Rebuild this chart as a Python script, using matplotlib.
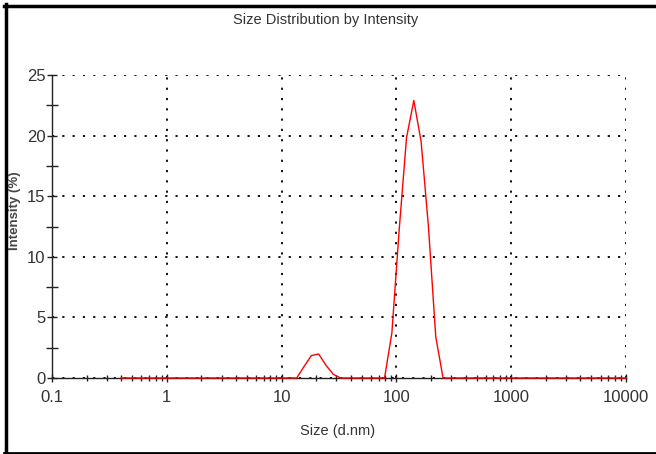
import matplotlib.pyplot as plt
from matplotlib.lines import Line2D
from matplotlib.ticker import FixedLocator, LogLocator, NullFormatter
import matplotlib.font_manager as fm

# size bins (d.nm) and intensity (%) of the DLS distribution
size_nm = [0.4, 13.54, 15.69, 18.17, 21.04, 24.36, 28.21, 32.67,
           78.82, 91.28, 105.7, 122.4, 141.8, 164.2, 190.1, 220.2, 255.0, 10000]
intensity = [0, 0, 0.95, 1.85, 1.98, 1.05, 0.3, 0,
             0, 3.7, 12.2, 19.8, 22.9, 19.5, 12.5, 3.4, 0, 0]

x_ticks = [0.1, 1, 10, 100, 1000, 10000]
x_labels = ["0.1", "1", "10", "100", "1000", "10000"]
y_ticks = [0, 5, 10, 15, 20, 25]

names = {f.name for f in fm.fontManager.ttflist}
family = ["Liberation Sans Narrow", "Liberation Sans", "DejaVu Sans"]
family = [f for f in family if f in names] or ["DejaVu Sans"]
plt.rcParams["font.family"] = family

W, H = 656, 454
fig = plt.figure(figsize=(W / 100, H / 100), dpi=100)
ax = fig.add_axes([52 / W, 1 - 378 / H, (626 - 52) / W, (378 - 75) / H])

ax.plot(size_nm, intensity, color="#ff0000", lw=1.0, zorder=5, clip_on=False)

ax.set_xscale("log")
ax.set_xlim(0.1, 10000)
ax.set_ylim(0, 25)

ax.xaxis.set_major_locator(FixedLocator(x_ticks))
ax.set_xticklabels(x_labels)
ax.xaxis.set_minor_locator(LogLocator(base=10, subs=range(2, 10)))
ax.xaxis.set_minor_formatter(NullFormatter())
ax.yaxis.set_major_locator(FixedLocator(y_ticks))
ax.yaxis.set_minor_locator(FixedLocator([2.5, 7.5, 12.5, 17.5, 22.5]))

for s in ("top", "right"):
    ax.spines[s].set_visible(False)
for s in ("left", "bottom"):
    ax.spines[s].set_linewidth(1.0)
    ax.spines[s].set_color("#222222")

ax.tick_params(axis="both", which="both", direction="inout", color="#222222")
ax.tick_params(axis="y", which="major", length=7, width=1.0, labelsize=12, pad=1)
ax.tick_params(axis="y", which="minor", length=8, width=1.0)
ax.tick_params(axis="x", which="major", length=6, width=1.0, labelsize=12, pad=6)
ax.tick_params(axis="x", which="minor", length=5, width=1.0)
for lab in ax.get_xticklabels() + ax.get_yticklabels():
    lab.set_color("#333333")

ax.grid(True, which="major", color="black", linestyle=(0, (1.2, 4.5)), linewidth=1.3)

fig.text(326 / W, 1 - 20 / H, "Size Distribution by Intensity", ha="center", va="center",
         fontsize=10.5, color="#333333")
fig.text(338 / W, 1 - 431 / H, "Size (d.nm)", ha="center", va="center",
         fontsize=10.5, color="#333333")
fig.text(15 / W, 1 - 211 / H, "Intensity (%)", ha="center", va="center", rotation=90,
         fontsize=9.5, fontweight="bold", color="#444444")

# outer frame: left, top and bottom edges
fig.add_artist(Line2D([5.5 / W, 5.5 / W], [0, 1 - 4 / H], transform=fig.transFigure,
                      color="black", lw=2.5))
fig.add_artist(Line2D([4 / W, 1], [1 - 5.5 / H, 1 - 5.5 / H], transform=fig.transFigure,
                      color="black", lw=2.5))
fig.add_artist(Line2D([4 / W, 1], [1 - 452.5 / H, 1 - 452.5 / H], transform=fig.transFigure,
                      color="black", lw=2.0))

fig.savefig("out.png", dpi=100)
